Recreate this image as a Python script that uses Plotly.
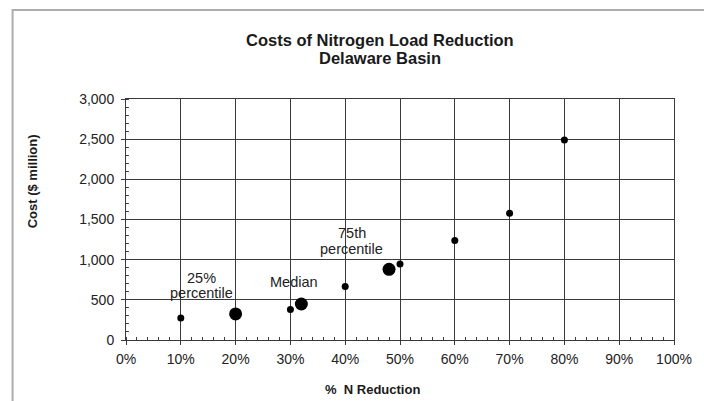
import plotly.graph_objects as go

# scenario points (fraction of N reduction, cost in $ million)
scen_x = [0.10, 0.30, 0.40, 0.50, 0.60, 0.70, 0.80]
scen_cost = [275, 380, 665, 945, 1240, 1578, 2490]

# percentile points
pct_x = [0.20, 0.32, 0.48]
pct_cost = [325, 448, 880]

# percentile labels, one entry per text line
label_lines = ["25%", "percentile", "Median", "75th", "percentile"]
label_x = [0.137, 0.137, 0.307, 0.412, 0.412]
label_y = [775, 581, 726, 1328, 1129]

title_lines = ["Costs of Nitrogen Load Reduction", "Delaware Basin"]

FONT = "Liberation Sans, Arial, sans-serif"
INK = "#1a1a1a"
GRID = "#3a3a3a"

fig = go.Figure()
fig.add_trace(go.Scatter(x=scen_x, y=scen_cost, mode="markers",
                         marker=dict(color="black", size=7), showlegend=False))
fig.add_trace(go.Scatter(x=pct_x, y=pct_cost, mode="markers",
                         marker=dict(color="black", size=13), showlegend=False))

for txt, lx, ly in zip(label_lines, label_x, label_y):
    fig.add_annotation(x=lx, y=ly, text=txt, showarrow=False,
                       xanchor="center", yanchor="middle",
                       font=dict(size=14.5, color="#222"))

# title, two lines placed separately for tight spacing
for txt, ty in zip(title_lines, [1.245, 1.170]):
    fig.add_annotation(text=f"<b>{txt}</b>", xref="paper", yref="paper",
                       x=0.463, y=ty, showarrow=False,
                       xanchor="center", yanchor="middle",
                       font=dict(size=16.5, color=INK))

# axis titles
fig.add_annotation(text="<b>Cost ($ million)</b>", xref="paper", yref="paper",
                   x=-0.169, y=0.66, textangle=-90, showarrow=False,
                   xanchor="center", yanchor="middle",
                   font=dict(size=13, color=INK))
fig.add_annotation(text="<b>%  N Reduction</b>", xref="paper", yref="paper",
                   x=0.45, y=-0.207, showarrow=False,
                   xanchor="center", yanchor="middle",
                   font=dict(size=13, color=INK))

# outer chart frame
fig.add_shape(type="rect", xref="paper", yref="paper",
              x0=-0.207, x1=1.2, y0=-0.5, y1=1.369,
              line=dict(color="#adadad", width=2), layer="below")

fig.update_layout(
    width=704, height=401,
    margin=dict(l=126, r=27, t=99, b=61),
    paper_bgcolor="white", plot_bgcolor="white",
    font=dict(family=FONT, size=14, color="#222"),
    xaxis=dict(range=[0, 1], dtick=0.1, tick0=0, tickformat=".0%",
               showgrid=True, gridcolor=GRID, gridwidth=1,
               showline=True, linecolor=GRID, linewidth=1, mirror=True,
               ticks="outside", ticklen=4, tickcolor=GRID, zeroline=False,
               ticklabelstandoff=2,
               minor=dict(dtick=0.02, ticks="inside", ticklen=3, tickcolor=GRID, showgrid=False)),
    yaxis=dict(range=[0, 3000], dtick=500, tick0=0, tickformat=",",
               showgrid=True, gridcolor=GRID, gridwidth=1,
               showline=True, linecolor=GRID, linewidth=1, mirror=True,
               ticks="outside", ticklen=4, tickcolor=GRID, zeroline=False,
               ticklabelstandoff=4,
               minor=dict(dtick=100, ticks="inside", ticklen=3, tickcolor=GRID, showgrid=False)),
)

fig.write_html("out.html", config={"displayModeBar": False},
               post_script="document.body.style.margin='0px';")
